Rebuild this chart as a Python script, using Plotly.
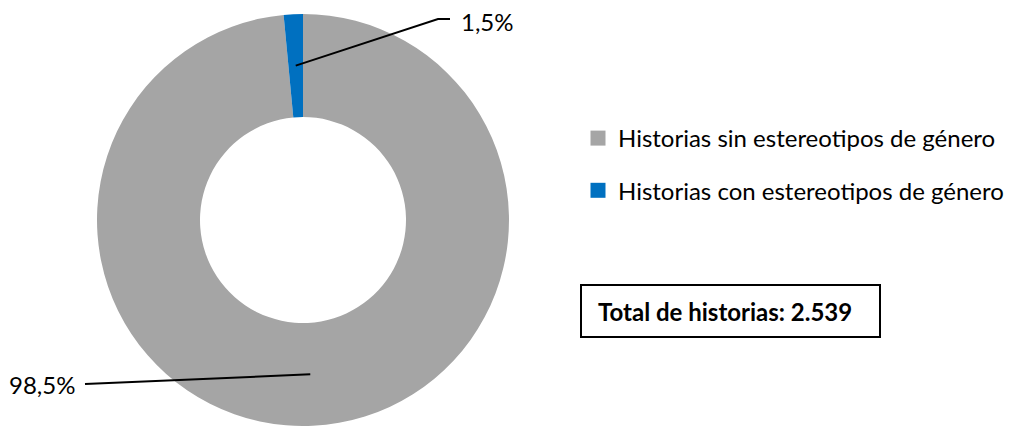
import math
import plotly.graph_objects as go

categories = ["Historias sin estereotipos de género", "Historias con estereotipos de género"]
values = [98.5, 1.5]
value_labels = ["98,5%", "1,5%"]
colors = ["#A5A5A5", "#0070C0"]
total_text = "Total de historias: 2.539"

W, H = 1014, 426
FONT = "Lato"

# pie geometry (pixels)
cx, cy, R = 303, 220, 206

def px(x):
    return x / W

def py(y):
    return 1 - y / H

fig = go.Figure()
fig.add_trace(go.Pie(
    labels=categories, values=values, hole=0.5, sort=False,
    direction="clockwise", rotation=0,
    marker=dict(colors=colors, line=dict(width=0)),
    textinfo="none", hoverinfo="label+percent", showlegend=False,
    domain=dict(x=[px(cx - R), px(cx + R)], y=[py(cy + R), py(cy - R)]),
))

# legend entries
for i, (c, col) in enumerate(zip(categories, colors)):
    fig.add_trace(go.Scatter(
        x=[None], y=[None], mode="markers", name=c, legendgroup=f"g{i}",
        marker=dict(symbol="square", size=15, color=col),
    ))

# anchor points of leader lines computed from data
tot = sum(values)
cum = 0
anchors = []
for v in values:
    th = math.radians(360 * (cum + v / 2) / tot)
    r = 0.75 * R
    anchors.append((cx + r * math.sin(th), cy - r * math.cos(th)))
    cum += v

shapes = []
ax0, ay0 = anchors[0]
shapes.append(dict(type="line", xref="paper", yref="paper",
                   x0=px(ax0), y0=py(ay0), x1=px(85), y1=py(384),
                   line=dict(color="black", width=2)))
ax1, ay1 = anchors[1]
shapes.append(dict(type="path", xref="paper", yref="paper",
                   path=f"M {px(ax1)},{py(ay1)} L {px(438)},{py(19)} L {px(450)},{py(19)}",
                   line=dict(color="black", width=2)))
# total box
shapes.append(dict(type="rect", xref="paper", yref="paper",
                   x0=px(581), y0=py(337), x1=px(880), y1=py(285),
                   line=dict(color="black", width=2), fillcolor="white", layer="below"))

annotations = [
    dict(text=value_labels[0], x=px(77), y=py(384), xref="paper", yref="paper",
         xanchor="right", yanchor="middle", showarrow=False,
         font=dict(family=FONT, size=24, color="black")),
    dict(text=value_labels[1], x=px(459), y=py(21), xref="paper", yref="paper",
         xanchor="left", yanchor="middle", showarrow=False,
         font=dict(family=FONT, size=24, color="black")),
    dict(text=f"<b>{total_text}</b>", x=px(596), y=py(311), xref="paper", yref="paper",
         xanchor="left", yanchor="middle", showarrow=False,
         font=dict(family=FONT, size=24, color="black")),
]

fig.update_layout(
    width=W, height=H,
    margin=dict(l=0, r=0, t=0, b=0),
    paper_bgcolor="white", plot_bgcolor="white",
    xaxis=dict(visible=False), yaxis=dict(visible=False),
    shapes=shapes, annotations=annotations,
    legend=dict(x=px(578), y=py(116), xanchor="left", yanchor="top",
                font=dict(family=FONT, size=24, color="black"),
                tracegroupgap=18, traceorder="grouped",
                bgcolor="rgba(0,0,0,0)", itemsizing="trace"),
    showlegend=True,
)

fig.write_html("out.html", config={"displayModeBar": False},
               post_script="document.body.style.margin='0';")
